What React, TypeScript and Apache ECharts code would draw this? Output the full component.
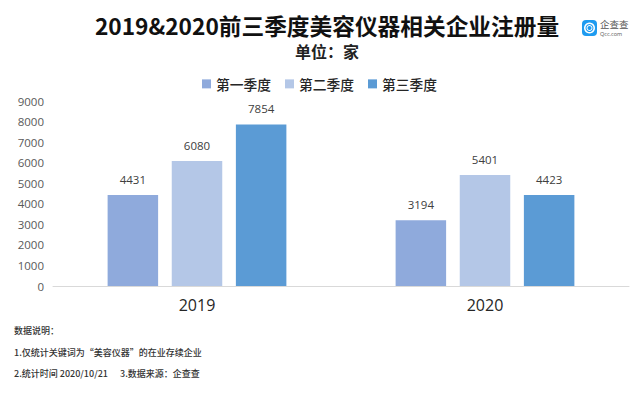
import React, { useEffect, useRef } from "react";
import * as echarts from "echarts";

const categories = ["2019", "2020"];
const seriesNames = ["第一季度", "第二季度", "第三季度"];
const q1 = [4431, 3194];
const q2 = [6080, 5401];
const q3 = [7854, 4423];
const colors = ["#8FAADC", "#B4C7E7", "#5B9BD5"];
const FONT = '"Noto Sans CJK SC", "Open Sans", sans-serif';
const LATIN = '"Open Sans", "Noto Sans CJK SC", sans-serif';

export default function App() {
  const ref = useRef<HTMLDivElement>(null);
  useEffect(() => {
    const chart = echarts.init(ref.current!, undefined, { renderer: "svg" });
    const mk = (name: string, data: number[], i: number) => ({
      name,
      type: "bar",
      data,
      barWidth: 50.5,
      barGap: "27%",
      itemStyle: { color: colors[i] },
      label: { show: true, position: "top", distance: 10, color: "#404040", fontSize: 11.5, fontFamily: LATIN },
    });
    chart.setOption({
      animation: false,
      backgroundColor: "#fff",
      legend: {
        top: 72,
        left: 197,
        itemWidth: 9,
        itemHeight: 9,
        itemGap: 14,
        icon: "rect",
        data: seriesNames,
        textStyle: { fontSize: 13.75, color: "#262626", fontFamily: FONT, fontWeight: 500 },
      },
      grid: { left: 53, right: 12, top: 101, bottom: 110 },
      xAxis: {
        type: "category",
        data: categories,
        axisTick: { show: false },
        axisLine: { lineStyle: { color: "#D9D9D9", width: 1 } },
        axisLabel: { fontSize: 16, color: "#262626", margin: 11, fontFamily: LATIN },
      },
      yAxis: {
        type: "value",
        min: 0,
        max: 9000,
        interval: 1000,
        axisLine: { show: false },
        axisTick: { show: false },
        splitLine: { show: false },
        axisLabel: { fontSize: 11.5, color: "#595959", margin: 9, fontFamily: LATIN, formatter: (v: number) => String(v) },
      },
      series: [mk(seriesNames[0], q1, 0), mk(seriesNames[1], q2, 1), mk(seriesNames[2], q3, 2)],
      graphic: [
        { type: "text", x: 327, y: 14, style: { text: "2019&2020前三季度美容仪器相关企业注册量", font: `bold 22.7px ${FONT}`, fill: "#111", align: "center" } },
        { type: "text", x: 295, y: 43, style: { text: "单位：家", font: `bold 16px ${FONT}`, fill: "#222" } },
        { type: "text", x: 14, y: 326, style: { text: "数据说明：", font: `500 9px ${FONT}`, fill: "#333" } },
        { type: "text", x: 14, y: 348, style: { text: "1.仅统计关键词为“美容仪器”的在业存续企业", font: `500 9px ${FONT}`, fill: "#333" } },
        { type: "text", x: 14, y: 369, style: { text: "2.统计时间 2020/10/21", font: `500 9px ${FONT}`, fill: "#333" } },
        { type: "text", x: 120, y: 369, style: { text: "3.数据来源：企查查", font: `500 9px ${FONT}`, fill: "#333" } },
        { type: "rect", shape: { x: 582, y: 20, width: 15, height: 16, r: 4 }, style: { fill: "#1E9BF0" } },
        { type: "ring", shape: { cx: 589.5, cy: 28, r: 5.5, r0: 4 }, style: { fill: "#fff" } },
        { type: "ring", shape: { cx: 589.5, cy: 28, r: 3, r0: 2 }, style: { fill: "#fff" } },
        { type: "text", x: 600, y: 19, style: { text: "企查查", font: `9.5px ${FONT}`, fill: "#555" } },
        { type: "text", x: 600, y: 31, style: { text: "Qcc.com", font: `5.5px ${LATIN}`, fill: "#555" } },
      ],
    });
    return () => chart.dispose();
  }, []);
  return <div ref={ref} style={{ width: 641, height: 396, position: "absolute", left: 0, top: 0 }} />;
}
